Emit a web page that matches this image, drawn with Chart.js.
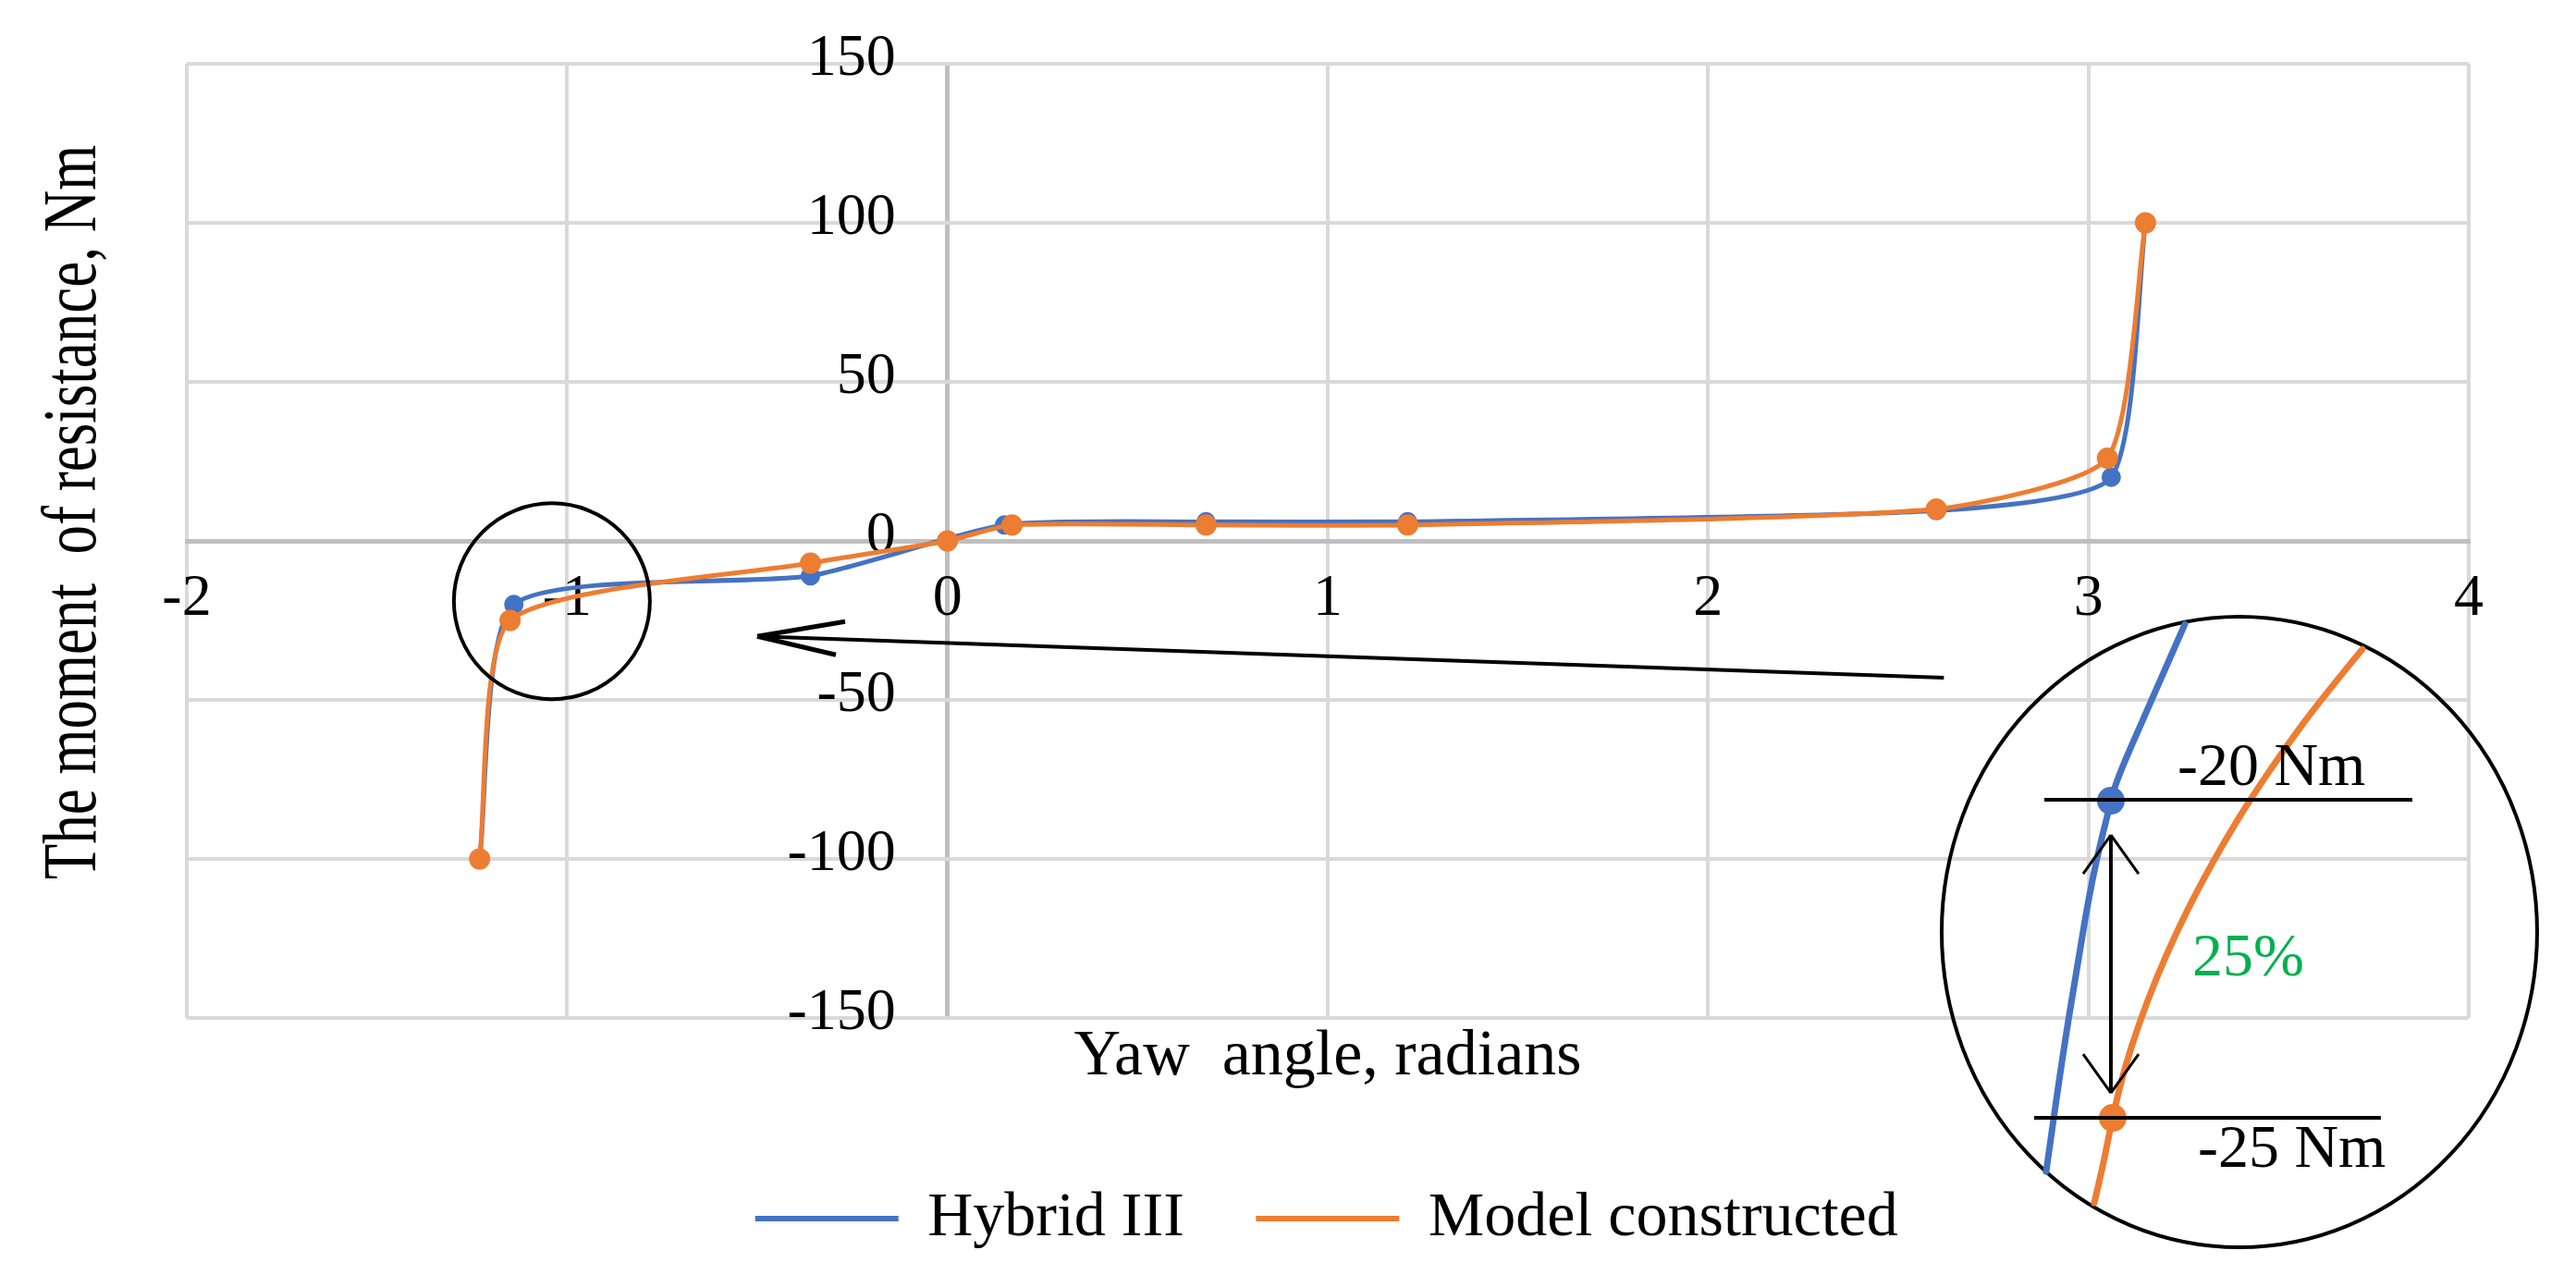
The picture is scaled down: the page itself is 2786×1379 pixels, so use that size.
<!DOCTYPE html>
<html>
<head>
<meta charset="utf-8">
<title>The moment of resistance</title>
<script src="https://cdn.jsdelivr.net/npm/chart.js@4.4.1/dist/chart.umd.min.js"></script>
<style>
  body { margin: 0; background: #fff; }
  canvas { display: block; }
</style>
</head>
<body>
<canvas id="graf" width="2786" height="1379"></canvas>
<script>
// values
var hybridX = [-1.23, -1.14, -0.36, 0.15, 0.68, 1.21, 2.6, 3.06, 3.15];
var hybridY = [-100, -20, -11, 5, 6, 6, 9.5, 20, 100];
var modelX = [-1.23, -1.15, -0.36, 0, 0.17, 0.68, 1.21, 2.6, 3.05, 3.15];
var modelY = [-100, -25, -7, 0, 5, 5, 5, 10, 26, 100];
var xTicks = [-2, -1, 0, 1, 2, 3, 4];
var yTicks = [-150, -100, -50, 0, 50, 100, 150];
var names = ["Hybrid III", "Model constructed"];
var colors = ["#4472C4", "#ED7D31"];
var xTitle = "Yaw  angle, radians";
var yTitle = "The moment  of resistance, Nm";

var serif = "'Liberation Serif', 'Times New Roman', serif";
Chart.defaults.color = "#000";

function points(xs, ys) {
  var out = [];
  for (var i = 0; i < xs.length; i++) out.push({ x: xs[i], y: ys[i] });
  return out;
}

function gridColor(ctx) {
  return ctx.tick && ctx.tick.value === 0 ? "#bfbfbf" : "#d9d9d9";
}
function gridWidth(ctx) {
  return ctx.tick && ctx.tick.value === 0 ? 5 : 4;
}

// smooth line through offsets from (cx, cy)
function curve(c, cx, cy, pts) {
  c.beginPath();
  c.moveTo(cx + pts[0][0], cy + pts[0][1]);
  for (var i = 1; i < pts.length - 1; i++) {
    var mx = (pts[i][0] + pts[i + 1][0]) / 2;
    var my = (pts[i][1] + pts[i + 1][1]) / 2;
    c.quadraticCurveTo(cx + pts[i][0], cy + pts[i][1], cx + mx, cy + my);
  }
  var l = pts[pts.length - 1];
  c.lineTo(cx + l[0], cy + l[1]);
  c.stroke();
}

function line(c, x1, y1, x2, y2) {
  c.beginPath();
  c.moveTo(x1, y1);
  c.lineTo(x2, y2);
  c.stroke();
}

function dot(c, x, y, r, col) {
  c.fillStyle = col;
  c.beginPath();
  c.arc(x, y, r, 0, 2 * Math.PI);
  c.fill();
}

// y title, circle, arrow and the magnified inset
var notes = {
  id: "notes",
  afterDraw: function (chart) {
    var c = chart.ctx;
    var a = chart.chartArea;
    var sx = chart.scales.x;
    var sy = chart.scales.y;
    c.save();

    c.save();
    c.translate(a.left - 99, a.top + 485);
    c.rotate(-Math.PI / 2);
    c.scale(1, 1.3);
    c.font = "63px " + serif;
    c.fillStyle = "#000";
    c.textAlign = "center";
    c.textBaseline = "alphabetic";
    c.fillText(yTitle, 0, 0);
    c.restore();

    c.strokeStyle = "#000";
    c.lineWidth = 4;
    c.beginPath();
    c.arc(sx.getPixelForValue(-1.04), sy.getPixelForValue(-19), 106, 0, 2 * Math.PI);
    c.stroke();

    var ax = sx.getPixelForValue(2.62), ay = sy.getPixelForValue(-43);
    var tx = sx.getPixelForValue(-0.5), ty = sy.getPixelForValue(-30);
    line(c, ax, ay, tx, ty);
    c.lineWidth = 5;
    line(c, tx, ty, tx + 95, ty - 16);
    line(c, tx, ty, tx + 85, ty + 20);

    // inset
    var cx = sx.getPixelForValue(3.397), cy = sy.getPixelForValue(-123);
    c.lineWidth = 4;
    c.beginPath();
    c.ellipse(cx, cy, 322, 341, 0, 0, 2 * Math.PI);
    c.stroke();

    c.lineCap = "round";
    c.lineWidth = 7;
    c.strokeStyle = colors[0];
    curve(c, cx, cy, [[-59, -333], [-98, -244], [-131, -169], [-139, -142], [-159, -60], [-176, 40], [-192, 139], [-209, 259]]);
    c.strokeStyle = colors[1];
    curve(c, cx, cy, [[133, -306], [87, -250], [50, -200], [12, -144], [-15, -100], [-43, -50], [-68, 0], [-90, 50], [-109, 100], [-125, 150], [-137, 199], [-147, 250], [-157, 293]]);
    dot(c, cx - 139, cy - 142, 15, colors[0]);
    dot(c, cx - 137, cy + 201, 15, colors[1]);

    c.lineCap = "butt";
    c.strokeStyle = "#000";
    c.lineWidth = 4;
    line(c, cx - 211, cy - 143, cx + 187, cy - 143);
    line(c, cx - 222, cy + 201, cx + 153, cy + 201);
    line(c, cx - 139, cy - 105, cx - 139, cy + 174);
    c.lineWidth = 3;
    line(c, cx - 139, cy - 105, cx - 169, cy - 63);
    line(c, cx - 139, cy - 105, cx - 109, cy - 63);
    line(c, cx - 139, cy + 174, cx - 169, cy + 132);
    line(c, cx - 139, cy + 174, cx - 109, cy + 132);

    c.font = "66px " + serif;
    c.textAlign = "left";
    c.textBaseline = "alphabetic";
    c.fillStyle = "#000";
    c.fillText("-20 Nm", cx - 67, cy - 159);
    c.fillText("-25 Nm", cx - 45, cy + 254);
    c.fillStyle = "#00B050";
    c.fillText("25%", cx - 51, cy + 47);
    c.restore();
  }
};

var tickFont = { family: serif, size: 64 };

new Chart(document.getElementById("graf"), {
  type: "scatter",
  data: {
    datasets: [
      {
        label: names[0],
        data: points(hybridX, hybridY),
        showLine: true,
        borderColor: colors[0],
        backgroundColor: colors[0],
        borderWidth: 5,
        pointRadius: 8,
        pointHoverRadius: 8,
        tension: 0.2,
        order: 2
      },
      {
        label: names[1],
        data: points(modelX, modelY),
        showLine: true,
        borderColor: colors[1],
        backgroundColor: colors[1],
        borderWidth: 5,
        pointRadius: 9,
        pointHoverRadius: 9,
        tension: 0.2,
        order: 1
      }
    ]
  },
  options: {
    responsive: false,
    animation: false,
    devicePixelRatio: 1,
    layout: { padding: { left: 202, right: 116, top: 69, bottom: 17 } },
    scales: {
      x: {
        type: "linear",
        min: -2,
        max: 4,
        position: { y: 0 },
        afterBuildTicks: function (axis) {
          axis.ticks = xTicks.map(function (v) { return { value: v }; });
        },
        grid: { color: gridColor, lineWidth: gridWidth, drawTicks: false },
        border: { color: "#bfbfbf", width: 5 },
        ticks: {
          font: tickFont,
          color: "#000",
          padding: 25,
          autoSkip: false,
          maxRotation: 0,
          callback: function (v) { return String(v); }
        }
      },
      y: {
        type: "linear",
        min: -150,
        max: 150,
        // labels end a little left of the x = 0 line, as in the picture
        position: { x: -0.136 },
        afterBuildTicks: function (axis) {
          axis.ticks = yTicks.map(function (v) { return { value: v }; });
        },
        grid: { color: gridColor, lineWidth: gridWidth, drawTicks: false },
        border: { display: false },
        ticks: {
          font: tickFont,
          color: "#000",
          padding: 0,
          labelOffset: -5,
          autoSkip: false,
          callback: function (v) { return String(v); }
        }
      }
    },
    plugins: {
      legend: {
        position: "bottom",
        fullSize: false,
        labels: {
          boxWidth: 150,
          boxHeight: 1,
          padding: 80,
          font: { family: serif, size: 68 },
          color: "#000",
          sort: function (p, q) { return p.datasetIndex - q.datasetIndex; }
        }
      },
      title: {
        display: true,
        text: xTitle,
        position: "bottom",
        fullSize: false,
        weight: 500,
        padding: { top: 11, bottom: 29 },
        font: { family: serif, size: 70, weight: "normal", lineHeight: 0.9 },
        color: "#000"
      },
      tooltip: { enabled: false }
    }
  },
  plugins: [notes]
});
</script>
</body>
</html>
